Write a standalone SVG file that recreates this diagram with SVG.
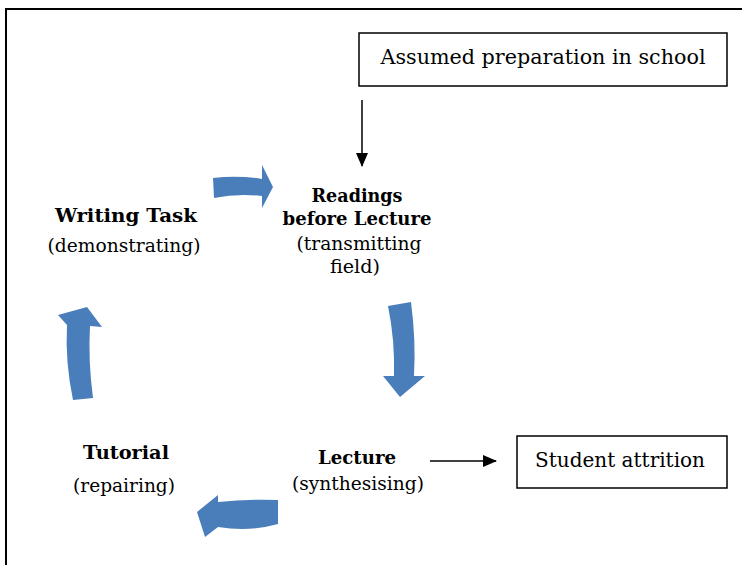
<svg xmlns="http://www.w3.org/2000/svg" width="742" height="565" viewBox="0 0 742 565">
<style>
.t{font-family:"DejaVu Serif","Liberation Serif",serif;font-size:20px;fill:#000}
.b{font-family:"DejaVu Serif","Liberation Serif",serif;font-size:18px;font-weight:bold;fill:#000}
.r{font-family:"DejaVu Serif","Liberation Serif",serif;font-size:18px;fill:#000}
.box{fill:#fff;stroke:#000;stroke-width:1.5}
.blk{fill:#4a7ebb}
.ln{stroke:#000;stroke-width:1.5;fill:none}
</style>
<defs>
<marker id="ah2" markerWidth="14" markerHeight="14" refX="13" refY="7" orient="auto" markerUnits="userSpaceOnUse">
<path d="M0,1 L14,7 L0,13 z" fill="#000"/>
</marker>
</defs>
<rect width="742" height="565" fill="#fff"/>
<path d="M6,565 L6,9 L742,9" fill="none" stroke="#000" stroke-width="2"/>

<g id="node-assumed">
<rect class="box" x="359" y="33" width="368" height="53"/>
<text class="t" x="543" y="64" text-anchor="middle" textLength="325" lengthAdjust="spacingAndGlyphs">Assumed preparation in school</text>
</g>
<g id="node-readings">
<text class="b" x="357" y="202" text-anchor="middle" textLength="91" lengthAdjust="spacingAndGlyphs">Readings</text>
<text class="b" x="357" y="225" text-anchor="middle" textLength="149" lengthAdjust="spacingAndGlyphs">before Lecture</text>
<text class="r" x="359" y="250" text-anchor="middle" textLength="125" lengthAdjust="spacingAndGlyphs">(transmitting</text>
<text class="r" x="355" y="273" text-anchor="middle" textLength="50" lengthAdjust="spacingAndGlyphs">field)</text>
</g>
<g id="node-writing">
<text class="b" x="126" y="222" text-anchor="middle" textLength="142" lengthAdjust="spacingAndGlyphs">Writing Task</text>
<text class="r" x="124" y="252" text-anchor="middle" textLength="153" lengthAdjust="spacingAndGlyphs">(demonstrating)</text>
</g>
<g id="node-tutorial">
<text class="b" x="126" y="459" text-anchor="middle" textLength="86" lengthAdjust="spacingAndGlyphs">Tutorial</text>
<text class="r" x="124" y="492" text-anchor="middle" textLength="102" lengthAdjust="spacingAndGlyphs">(repairing)</text>
</g>
<g id="node-lecture">
<text class="b" x="357" y="464" text-anchor="middle" textLength="78" lengthAdjust="spacingAndGlyphs">Lecture</text>
<text class="r" x="358" y="490" text-anchor="middle" textLength="132" lengthAdjust="spacingAndGlyphs">(synthesising)</text>
</g>
<g id="node-attrition">
<rect class="box" x="517" y="436" width="210" height="52"/>
<text class="t" x="620" y="467" text-anchor="middle" textLength="170" lengthAdjust="spacingAndGlyphs">Student attrition</text>
</g>

<g id="connectors">
<line class="ln" x1="362" y1="100" x2="362" y2="166" marker-end="url(#ah2)"/>
<line class="ln" x1="430" y1="461" x2="496" y2="461" marker-end="url(#ah2)"/>
<path class="blk" d="M213,178 Q238,175 262,179 L262,165 L273,187 L262,208 L262,196 Q238,193 214,198 Z"/>
<path class="blk" d="M388,306 L411,302 Q416,340 414,376 L425,376 L400,397 L383,376 L394,376 Q395,340 388,306 Z"/>
<path class="blk" d="M278,500 L278,524 Q250,532 218,527 L205,537 L197,512 L218,495 L218,502 Q248,499 278,500 Z"/>
<path class="blk" d="M73,400 L93,398 Q88,360 90,326 L102,327 L87,307 L58,315 L67,325 Q65,362 73,400 Z"/>
</g>
</svg>
